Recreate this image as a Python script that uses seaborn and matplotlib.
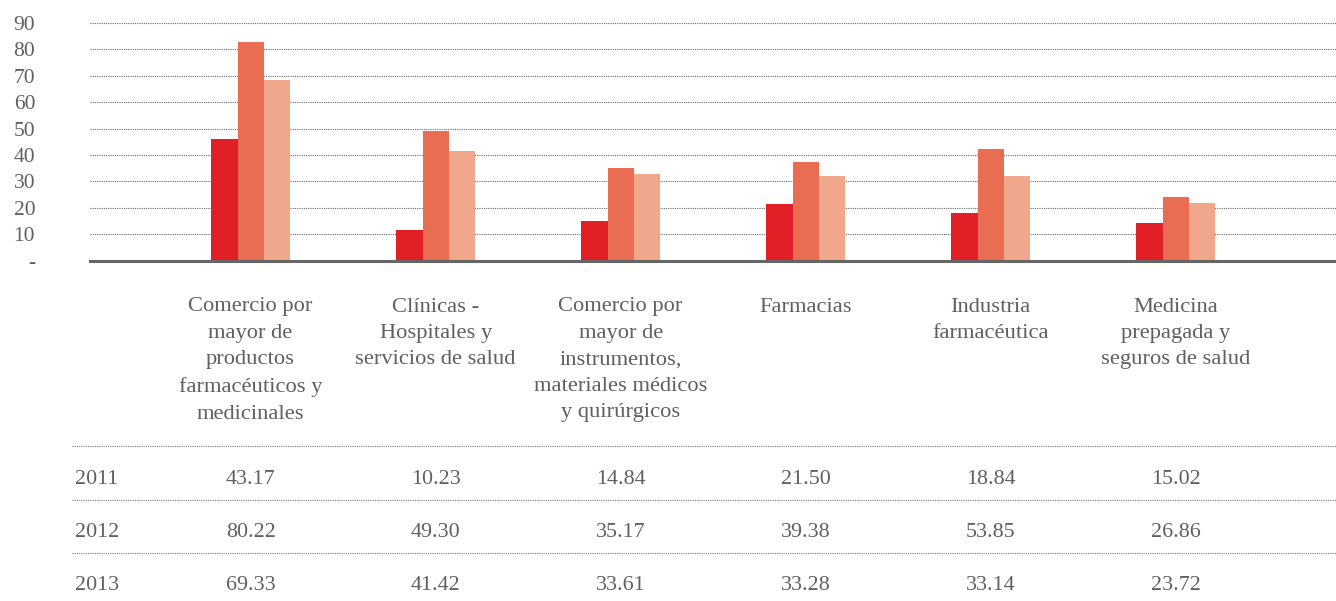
import matplotlib
matplotlib.use("Agg")
import matplotlib.pyplot as plt
import matplotlib.transforms as mtransforms
from matplotlib.lines import Line2D
import seaborn as sns
import pandas as pd

# ---------------- data ----------------
categories = [
    "Comercio por\nmayor de\nproductos\nfarmacéuticos y\nmedicinales",
    "Clínicas -\nHospitales y\nservicios de salud",
    "Comercio por\nmayor de\ninstrumentos,\nmateriales médicos\ny quirúrgicos",
    "Farmacias",
    "Industria\nfarmacéutica",
    "Medicina\nprepagada y\nseguros de salud",
]
years = ["2011", "2012", "2013"]

# bar heights as drawn in the chart
bars_2011 = [46.0, 11.6, 15.0, 21.4, 18.0, 14.3]
bars_2012 = [82.7, 49.1, 35.1, 37.3, 42.2, 24.1]
bars_2013 = [68.3, 41.5, 32.8, 32.0, 32.0, 21.8]

# values printed in the table under the chart
table_2011 = [43.17, 10.23, 14.84, 21.50, 18.84, 15.02]
table_2012 = [80.22, 49.30, 35.17, 39.38, 53.85, 26.86]
table_2013 = [69.33, 41.42, 33.61, 33.28, 33.14, 23.72]

yticks = [0, 10, 20, 30, 40, 50, 60, 70, 80, 90]
ytick_labels = ["-", "10", "20", "30", "40", "50", "60", "70", "80", "90"]

colors = ["#E01F26", "#E96D52", "#F0A78C"]
TEXT = "#606060"

# ---------------- figure ----------------
sns.set_theme(style="white")
plt.rcParams["font.family"] = ["Liberation Serif", "DejaVu Serif"]

W, H = 1336, 601
fig = plt.figure(figsize=(W / 100, H / 100), dpi=100)
fig.patch.set_facecolor("white")
ax = fig.add_axes([90 / W, 1 - 260.7 / H, (W - 90) / W, (260.7 - 17.5) / H])

keys = [str(i) for i in range(len(categories))]
df = pd.DataFrame({
    "cat": keys * 3,
    "year": [y for y in years for _ in categories],
    "value": bars_2011 + bars_2012 + bars_2013,
})
sns.barplot(data=df, x="cat", y="value", hue="year", order=keys, hue_order=years,
            palette=colors, width=0.425, gap=0, saturation=1, errorbar=None,
            linewidth=0, legend=False, ax=ax)

ax.set_xlim(-0.868, 5.866)
ax.set_ylim(0, 92)
ax.set_axisbelow(True)
ax.yaxis.grid(True, linestyle=(0, (1, 1)), color="#6a6a6a", linewidth=0.8)
ax.xaxis.grid(False)
for s in ["top", "right", "left"]:
    ax.spines[s].set_visible(False)
ax.spines["bottom"].set_color("#666666")
ax.spines["bottom"].set_linewidth(2.2)
ax.spines["bottom"].set_zorder(5)

ax.set_yticks(yticks, ytick_labels)
ax.tick_params(axis="y", length=0, pad=39.5, labelsize=15.5, labelcolor=TEXT)
ax.set_xticks([])
ax.set_xlabel("")
ax.set_ylabel("")

trans = mtransforms.blended_transform_factory(ax.transData, fig.transFigure)

# category labels
for i, lab in enumerate(categories):
    ax.text(i, 1 - 297.5 / H, lab, transform=trans, ha="center", va="top",
            fontsize=16.2, color=TEXT, linespacing=1.53, clip_on=False)

# table
for yl in [446, 499.5, 553]:
    fig.add_artist(Line2D([72 / W, 1.0], [1 - yl / H] * 2, transform=fig.transFigure,
                          linestyle=(0, (1, 1)), color="#7a7a7a", linewidth=0.8))

rows = [table_2011, table_2012, table_2013]
row_y = [479, 532.5, 585]
for yr, vals, yc in zip(years, rows, row_y):
    fig.text(75 / W, 1 - yc / H, yr, ha="left", va="center", fontsize=15.8, color=TEXT)
    for i, v in enumerate(vals):
        ax.text(i, 1 - yc / H, f"{v:.2f}", transform=trans, ha="center", va="center",
                fontsize=15.8, color=TEXT, clip_on=False)

fig.savefig("out.png", dpi=100)
